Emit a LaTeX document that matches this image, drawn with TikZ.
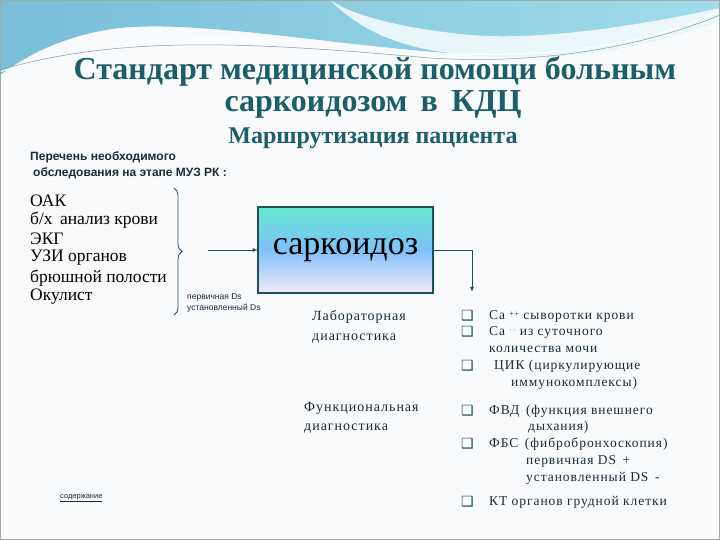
\documentclass[tikz,border=0pt]{standalone}
\usepackage{fontspec}
\setmainfont{Liberation Serif}
\newfontfamily\ssf{Liberation Sans}
\newfontfamily\spf[LetterSpace=7]{Liberation Serif}
\newfontfamily\djv{DejaVu Sans}
\usetikzlibrary{decorations.pathreplacing}
\definecolor{titleC}{HTML}{1D5E6B}
\definecolor{txtC}{HTML}{1A2A3A}
\definecolor{lineC}{HTML}{1F4E5F}
\tikzset{x=1pt,y=-1pt,
  lbl/.style={anchor=west,inner sep=0,text=txtC,text height=9.5pt,text depth=3pt,font=\spf\fontsize{14}{16}\selectfont},
  item/.style={anchor=west,inner sep=0,text=black,font=\fontsize{17.5}{19}\selectfont},
  bul/.style={anchor=west,inner sep=0,text=lineC,font=\djv\fontsize{14}{15}\selectfont},
  ttl/.style={text=titleC,inner sep=0,font=\bfseries\fontsize{32}{34}\selectfont},
  conn/.style={draw=lineC,line width=0.8pt}}
\begin{document}
\begin{tikzpicture}
\useasboundingbox (0,0) rectangle (720,540);
\fill[color={rgb,255:red,248;green,250;blue,252}] (0,0) rectangle (720,540);
% header wave
\shade[left color={rgb,255:red,120;green,190;blue,215}, right color={rgb,255:red,160;green,220;blue,235}]
  (0,0) -- (720,0) -- (720,20) .. controls (640,50) and (560,62) .. (470,55)
  .. controls (330,45) and (200,20) .. (120,28) .. controls (60,35) and (20,60) .. (0,75) -- cycle;
\fill[white,opacity=0.8] (330,0) .. controls (360,20) and (420,30) .. (470,35) .. controls (530,40) and (620,30) .. (720,8) -- (720,20) .. controls (640,50) and (560,62) .. (470,55) .. controls (400,50) and (360,30) .. (330,0);
\draw[white,line width=1pt] (0,72) .. controls (100,30) and (250,35) .. (420,52) .. controls (560,62) and (660,40) .. (720,10);
\draw[titleC!60,line width=0.5pt] (0,70) .. controls (120,35) and (250,42) .. (430,58) .. controls (560,66) and (660,40) .. (720,15);
\draw[gray!70,line width=1pt] (0.5,0.5) rectangle (719.5,539.5);
% titles
\node[ttl] (t1) at (375,71) {Стандарт медицинской помощи больным};
\node[ttl] (t2) at (373,104) {саркоидозом\, в\, КДЦ};
\node[ttl,font=\bfseries\fontsize{24}{26}\selectfont] (t3) at (373,138) {Маршрутизация пациента};
\node[anchor=west,inner sep=0,text=txtC,font=\ssf\bfseries\fontsize{12}{13}\selectfont] (p1) at (30,157) {Перечень необходимого};
\node[anchor=west,inner sep=0,text=txtC,font=\ssf\bfseries\fontsize{12}{13}\selectfont] (p2) at (33,173) {обследования на этапе МУЗ РК :};
% list
\node[item] (i1) at (30,201) {ОАК};
\node[item] (i2) at (30,220) {б/х\, анализ крови};
\node[item] (i3) at (30,239) {ЭКГ};
\node[item] (i4) at (30,258) {УЗИ органов};
\node[item] (i5) at (30,278) {брюшной полости};
\node[item] (i6) at (30,297) {Окулист};
\draw[conn,decorate,decoration={brace,amplitude=8pt}] (174,188) -- (174,315);
\coordinate (as) at (208,250);
\node[anchor=west,inner sep=0,font=\ssf\fontsize{8.5}{9}\selectfont,text=txtC] (d1) at (187,297) {первичная Ds};
\node[anchor=west,inner sep=0,font=\ssf\fontsize{8.5}{9}\selectfont,text=txtC] (d2) at (187,308) {установленный Ds};
% main box
\node[minimum width=175pt,minimum height=86pt,inner sep=0] (box) at (345.5,250) {};
\shade[top color={rgb,255:red,100;green,232;blue,205}, bottom color={rgb,255:red,245;green,232;blue,245}, middle color={rgb,255:red,128;green,192;blue,250}] (box.north west) rectangle (box.south east);
\draw[lineC,line width=1.6pt] (box.north west) rectangle (box.south east);
\node[font=\fontsize{34}{36}\selectfont,inner sep=0] (bl) at (345.5,250) {саркоидоз};
\draw[conn,-latex] (as) -- (box.west);
\coordinate (cd) at (472,292);
\draw[conn,-latex] (box.east) -| (cd);
% diagnostics
\node[lbl] (l1) at (312,317) {Лабораторная};
\node[lbl] (l2) at (312,337) {диагностика};
\node[lbl] (f1) at (304,408) {Функциональная};
\node[lbl] (f2) at (304,427) {диагностика};
% bullets
\foreach \y in {316,332,366,411,444,502} \node[bul] at (461,\y) {❑};
\tikzset{lbl/.append style={font=\spf\fontsize{13.5}{15}\selectfont}}
\node[lbl] (r1) at (489,316) {Ca \raisebox{3pt}{\fontsize{8}{8}\selectfont ++} сыворотки крови};
\node[lbl] (r2) at (489,332) {Ca \raisebox{3pt}{\fontsize{8}{8}\selectfont $\cdot\,\cdot$} из суточного};
\node[lbl] (r3) at (489,349) {количества мочи};
\node[lbl] (r4) at (494,366) {ЦИК (циркулирующие};
\node[lbl] (r5) at (511,383) {иммунокомплексы)};
\node[lbl] (s1) at (489,411) {ФВД\, (функция внешнего};
\node[lbl] (s2) at (528,427) {дыхания)};
\node[lbl] (s3) at (489,444) {ФБС\, (фибробронхоскопия)};
\node[lbl] (s4) at (526,461) {первичная DS\, +};
\node[lbl] (s5) at (526,478) {установленный DS\, -};
\node[lbl] (s6) at (489,502) {КТ органов грудной клетки};
\node[anchor=west,inner sep=0,font=\ssf\fontsize{7.5}{8}\selectfont,text=txtC] (cont) at (60,498) {\underline{содержание}};
\end{tikzpicture}
\end{document}
